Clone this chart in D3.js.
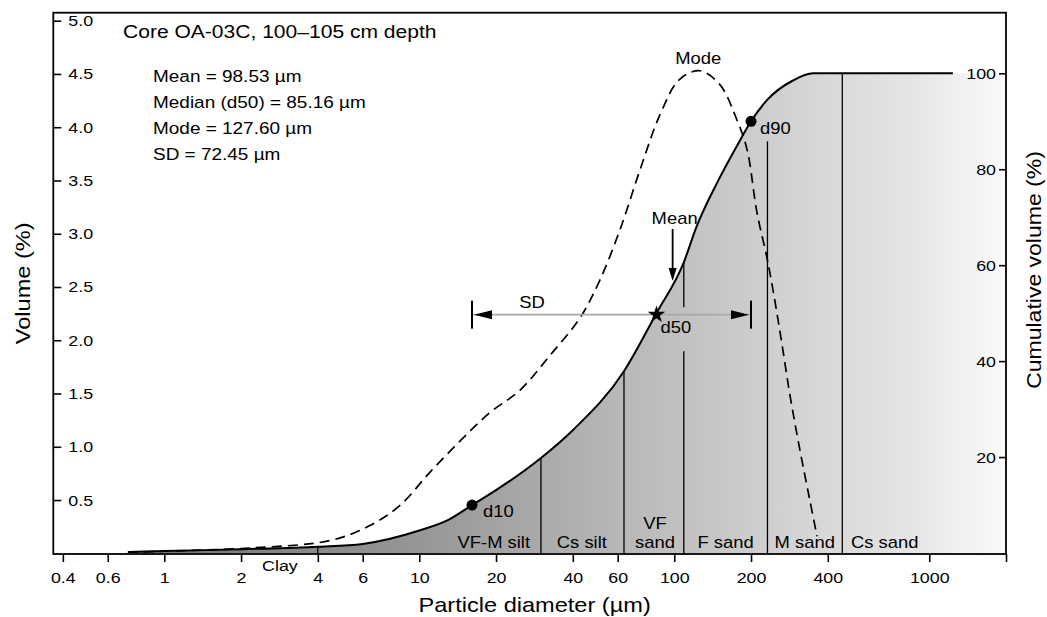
<!DOCTYPE html>
<html><head><meta charset="utf-8">
<script src="https://cdn.jsdelivr.net/npm/d3@7"></script>
<style>
body{margin:0;background:#fff;}
svg{display:block;}
text{font-family:'Liberation Sans',Arial,Helvetica,sans-serif;fill:#000;}
</style>
</head><body>
<svg id="chart" width="1047" height="617"></svg>
<script>
// ---------- data ----------
const freqDiam = [0.72, 1.0, 2.17, 4.47, 6.4, 8.4, 11.0, 14.4, 18.9, 24.8, 32.6, 42.7, 51.2, 61.3, 73.4, 88.0, 105, 126, 151, 176, 193, 211, 233, 259, 284, 311, 340, 363];
const freqVol  = [0.01, 0.02, 0.05, 0.12, 0.26, 0.45, 0.76, 1.05, 1.32, 1.53, 1.86, 2.21, 2.57, 3.04, 3.60, 4.12, 4.45, 4.53, 4.40, 4.07, 3.79, 3.20, 2.73, 2.10, 1.49, 0.97, 0.50, 0.16];
const cumDiam  = [0.72, 1.0, 2.0, 4.0, 6.0, 10, 13, 16.1, 20, 30, 40, 63.5, 85.16, 109, 122, 147, 181, 200, 232, 292, 350, 456, 1238];
const cumVol   = [0.2, 0.4, 0.8, 1.3, 1.9, 4.7, 6.9, 10, 13.1, 19.8, 25.6, 37.9, 50, 60.6, 67.9, 77.1, 86.0, 90, 94.5, 98.5, 100, 100, 100];
const xTickValues = [0.4, 0.6, 1, 2, 4, 6, 10, 20, 40, 60, 100, 200, 400, 1000, 2000];
const volTicks = [0.5, 1.0, 1.5, 2.0, 2.5, 3.0, 3.5, 4.0, 4.5, 5.0];
const cumTicks = [20, 40, 60, 80, 100];
const classBounds = [4, 30, 63.5, 109, 232, 456];
const classNames = ["Clay", "VF-M silt", "Cs silt", ["VF", "sand"], "F sand", "M sand", "Cs sand"];
const classLabelAt = [2.84, 19.6, 43.4, 84, 159, 325, 493];
const stats = {mean: 98.53, median: 85.16, mode: 127.6, sd: 72.45, d10: 16.1, d90: 200};
const statLines = ["Mean = 98.53 \u00b5m", "Median (d50) = 85.16 \u00b5m", "Mode = 127.60 \u00b5m", "SD = 72.45 \u00b5m"];
const title = "Core OA-03C, 100\u2013105 cm depth";

// ---------- setup ----------
const SX = 1.15; // horizontal glyph stretch to match the reference typeface width
const svg = d3.select("#chart");
const L = 53.3, R = 1006, T = 12.7, Bf = 554;
const x = d3.scaleLog().domain([0.367, 2000]).range([L, R]);
const yV = d3.scaleLinear().domain([0, 5]).range([553.3, 20.7]);
const yC = d3.scaleLinear().domain([0, 100]).range([553, 73.3]);

function label(g, px, py, s, size, anchor, rot) {
  return g.append("text")
    .attr("transform", `translate(${px},${py})${rot ? ` rotate(${rot})` : ""} scale(${SX},1)`)
    .attr("text-anchor", anchor || "start")
    .style("font-size", size + "px")
    .text(s);
}
function cumAt(d) {
  const lx = Math.log10(d);
  for (let i = 0; i < cumDiam.length - 1; i++) {
    const a = Math.log10(cumDiam[i]), b = Math.log10(cumDiam[i + 1]);
    if (lx >= a && lx <= b) return cumVol[i] + (cumVol[i + 1] - cumVol[i]) * (lx - a) / (b - a);
  }
  return 100;
}

const cumData = cumDiam.map((d, i) => [d, cumVol[i]]);
const freqData = freqDiam.map((d, i) => [d, freqVol[i]]);

// gradient
const defs = svg.append("defs");
const grad = defs.append("linearGradient").attr("id", "shade")
  .attr("gradientUnits", "userSpaceOnUse")
  .attr("x1", x(cumDiam[0])).attr("x2", R).attr("y1", 0).attr("y2", 0);
[[0, "#707070"], [0.35, "#999999"], [0.55, "#b6b6b6"], [0.75, "#d2d2d2"], [0.9, "#e6e6e6"], [1, "#fbfbfb"]]
  .forEach(([o, c]) => grad.append("stop").attr("offset", o).attr("stop-color", c));

// area under the cumulative curve
const area = d3.area().x(d => x(d[0])).y0(yC(0)).y1(d => yC(d[1])).curve(d3.curveMonotoneX);
svg.append("path").datum(cumData.concat([[x.domain()[1], 100]]))
  .attr("d", area).attr("fill", "url(#shade)");

// class boundary lines
const bg = svg.append("g").attr("stroke", "#000").attr("stroke-width", 1.3);
classBounds.forEach(b => {
  let y1 = yC(cumAt(b));
  const xb = x(b);
  if (b === 232) y1 = yC(90) + 20;
  if (b === 109) {
    bg.append("line").attr("x1", xb).attr("x2", xb).attr("y1", y1).attr("y2", yC(50) - 6);
    bg.append("line").attr("x1", xb).attr("x2", xb).attr("y1", yC(50) + 38).attr("y2", Bf);
  } else {
    bg.append("line").attr("x1", xb).attr("x2", xb).attr("y1", y1).attr("y2", Bf);
  }
});

// cumulative line
const line = d3.line().x(d => x(d[0])).y(d => yC(d[1])).curve(d3.curveMonotoneX);
svg.append("path").datum(cumData).attr("d", line)
  .attr("fill", "none").attr("stroke", "#000").attr("stroke-width", 2);

// frequency dashed line
const fline = d3.line().x(d => x(d[0])).y(d => yV(d[1])).curve(d3.curveCatmullRom.alpha(0.5));
svg.append("path").datum(freqData).attr("d", fline)
  .attr("fill", "none").attr("stroke", "#000").attr("stroke-width", 1.7)
  .attr("stroke-dasharray", "10,6");

// frame
svg.append("rect").attr("x", L).attr("y", T).attr("width", R - L).attr("height", Bf - T)
  .attr("fill", "none").attr("stroke", "#000").attr("stroke-width", 1.8);

// axes
const gL = svg.append("g").attr("transform", `translate(${L},0)`)
  .call(d3.axisRight(yV).tickValues(volTicks).tickSize(8).tickPadding(7).tickFormat(d3.format(".1f")));
gL.select(".domain").remove();
gL.selectAll("text").attr("x", 15 / SX).attr("transform", `scale(${SX},1)`);

const gR = svg.append("g").attr("transform", `translate(${R},0)`)
  .call(d3.axisLeft(yC).tickValues(cumTicks).tickSize(7).tickPadding(3));
gR.select(".domain").remove();
gR.selectAll("text").attr("x", -10 / SX).attr("transform", `scale(${SX},1)`);

const gB = svg.append("g").attr("transform", `translate(0,${Bf})`)
  .call(d3.axisBottom(x).tickValues(xTickValues).tickSize(8).tickPadding(10)
    .tickFormat(d => d === 2000 ? "" : String(d)));
gB.select(".domain").remove();
gB.selectAll("text").attr("transform", `scale(${SX},1)`);

[gL, gR, gB].forEach(g => {
  g.attr("font-family", null).attr("font-size", null);
  g.selectAll("text").style("font-size", "15.5px").attr("fill", "#000");
  g.selectAll("line").attr("stroke", "#000").attr("stroke-width", 1.6);
});

// axis titles
label(svg, (x(0.367) + R) / 2 + 5, 612, "Particle diameter (\u00b5m)", 20.5, "middle");
label(svg, 30, (T + Bf) / 2, "Volume (%)", 20.5, "middle", -90);
label(svg, 1041, 270, "Cumulative volume (%)", 20, "middle", -90);

// title & stats
label(svg, 123, 37.7, title, 18.3, "start");
statLines.forEach((s, i) => label(svg, 153, 81.7 + i * 26.1, s, 16.5, "start"));

// class labels
classNames.forEach((n, i) => {
  const cx = x(classLabelAt[i]);
  const anchor = i === 6 ? "start" : "middle";
  if (i === 0) { label(svg, cx, 571, n, 15.5, "middle"); return; }
  if (Array.isArray(n)) {
    label(svg, cx, 529, n[0], 16, anchor);
    label(svg, cx, 548, n[1], 16, anchor);
  } else {
    label(svg, cx, 548, n, 16, anchor);
  }
});

// markers: d10, d90 dots, d50 star
const d10x = x(stats.d10), d10y = yC(10);
const d90x = x(stats.d90), d90y = yC(90);
const d50x = x(stats.median), d50y = yC(50);

// SD bar (gray line with arrowheads and end bars)
const sdY = d50y + 1.5;
svg.append("line").attr("x1", d10x).attr("x2", d90x).attr("y1", sdY).attr("y2", sdY)
  .attr("stroke", "#a8a8a8").attr("stroke-width", 1.6);
[[d10x, 1], [d90x, -1]].forEach(([ex, s]) => {
  svg.append("line").attr("x1", ex).attr("x2", ex).attr("y1", sdY - 14).attr("y2", sdY + 14)
    .attr("stroke", "#000").attr("stroke-width", 2);
  const tip = ex + s * 2;
  svg.append("path")
    .attr("d", `M${tip},${sdY}L${tip + s * 18},${sdY - 4.5}L${tip + s * 18},${sdY + 4.5}Z`)
    .attr("fill", "#000");
});
label(svg, 532, 308, "SD", 16, "middle");

svg.append("circle").attr("cx", d10x).attr("cy", d10y).attr("r", 5.5).attr("fill", "#000");
svg.append("circle").attr("cx", d90x).attr("cy", d90y).attr("r", 5.5).attr("fill", "#000");
svg.append("path").attr("d", d3.symbol(d3.symbolStar, 95)())
  .attr("transform", `translate(${d50x},${sdY})`).attr("fill", "#000");
label(svg, d10x + 11, d10y + 12, "d10", 16, "start");
label(svg, d90x + 9, d90y + 13, "d90", 16, "start");
label(svg, d50x + 4, sdY + 18, "d50", 16, "start");

// Mean arrow
const mx = x(stats.mean), mTip = yC(cumAt(stats.mean)) - 2;
svg.append("line").attr("x1", mx).attr("x2", mx).attr("y1", 229).attr("y2", mTip - 8)
  .attr("stroke", "#000").attr("stroke-width", 1.8);
svg.append("path").attr("d", `M${mx},${mTip}L${mx - 4},${mTip - 13}L${mx + 4},${mTip - 13}Z`).attr("fill", "#000");
label(svg, mx + 2, 224, "Mean", 16, "middle");

// Mode label
label(svg, x(stats.mode) - 3, 64, "Mode", 16, "middle");
</script>
</body></html>
